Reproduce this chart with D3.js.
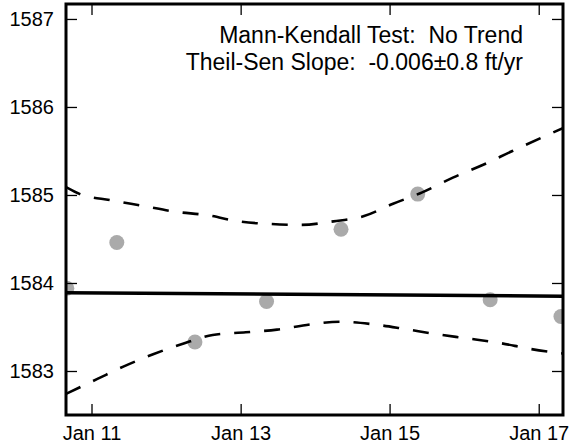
<!DOCTYPE html>
<html><head><meta charset="utf-8">
<script src="https://cdn.jsdelivr.net/npm/d3@7"></script>
<style>body{margin:0;background:#fff}svg{display:block}</style>
</head><body><svg id="c" width="574" height="448"></svg>
<script>
// ---- data ----
const obsDates  = ["2010-09-02","2011-05-05","2012-05-22","2013-05-08","2014-05-08","2015-05-19","2016-05-08","2017-04-20"];
const obsValues = [1583.94, 1584.46, 1583.33, 1583.79, 1584.61, 1585.01, 1583.81, 1583.62];

const trendDates  = ["2010-08-29","2017-04-30"];
const trendValues = [1583.89, 1583.85];

const upperDates  = ["2010-08-29","2010-11-06","2011-04-05","2011-09-12","2012-02-16","2012-07-22","2012-12-23","2013-05-30","2013-10-23","2014-04-01","2014-08-29","2015-01-18","2015-06-10","2015-11-10","2016-04-01","2016-08-25","2017-04-30"];
const upperValues = [1585.09, 1585.01, 1584.94, 1584.875, 1584.81, 1584.77, 1584.70, 1584.67, 1584.66, 1584.70, 1584.76, 1584.90, 1585.03, 1585.20, 1585.34, 1585.50, 1585.76];

const lowerDates  = ["2010-08-29","2011-01-30","2011-06-06","2011-10-30","2012-03-24","2012-08-17","2013-01-26","2013-06-28","2013-12-09","2014-05-04","2014-10-15","2015-03-10","2015-08-14","2016-01-18","2016-06-20","2016-11-23","2017-04-30"];
const lowerValues = [1582.74, 1582.91, 1583.05, 1583.19, 1583.31, 1583.41, 1583.44, 1583.47, 1583.53, 1583.56, 1583.53, 1583.48, 1583.42, 1583.37, 1583.32, 1583.25, 1583.20];

const xDomain = ["2010-08-29","2017-04-30"];
const yDomain = [1582.5, 1587.17];
const xTickDates = ["2011-01-01","2013-01-01","2015-01-01","2017-01-01"];
const yTickValues = [1583, 1584, 1585, 1586, 1587];
const annotationLines = ["Mann-Kendall Test:  No Trend", "Theil-Sen Slope:  -0.006\u00B10.8 ft/yr"];

// ---- chart ----
const parse = d3.utcParse("%Y-%m-%d");
const m = {left: 66, top: 4, right: 11, bottom: 33};
const W = 574, H = 448;
const iw = W - m.left - m.right, ih = H - m.top - m.bottom;
const font = "'Liberation Sans', Arial, sans-serif";

const svg = d3.select("#c");
const g = svg.append("g").attr("transform", `translate(${m.left},${m.top})`);

const x = d3.scaleUtc().domain(xDomain.map(parse)).range([0, iw]);
const y = d3.scaleLinear().domain(yDomain).range([ih, 0]);

svg.append("defs").append("clipPath").attr("id", "clip")
  .append("rect").attr("width", iw).attr("height", ih);

const plot = g.append("g").attr("clip-path", "url(#clip)");

const obs = obsDates.map((d, i) => ({d: parse(d), v: obsValues[i]}));
plot.selectAll("circle").data(obs).join("circle")
  .attr("cx", p => x(p.d)).attr("cy", p => y(p.v)).attr("r", 7.5)
  .attr("fill", "#aaaaaa");

const line = d3.line().x(p => x(p.d)).y(p => y(p.v)).curve(d3.curveMonotoneX);
const mk = (ds, vs) => ds.map((d, i) => ({d: parse(d), v: vs[i]}));

plot.append("path").datum(mk(upperDates, upperValues)).attr("d", line)
  .attr("fill", "none").attr("stroke", "#000").attr("stroke-width", 2.6).attr("stroke-dasharray", "16,14");
plot.append("path").datum(mk(lowerDates, lowerValues)).attr("d", line)
  .attr("fill", "none").attr("stroke", "#000").attr("stroke-width", 2.6).attr("stroke-dasharray", "16,14");
plot.append("path").datum(mk(trendDates, trendValues)).attr("d", d3.line().x(p => x(p.d)).y(p => y(p.v)))
  .attr("fill", "none").attr("stroke", "#000").attr("stroke-width", 3.5);

const xt = xTickDates.map(parse);
const fmt = d3.utcFormat("%b %y");

function styleAxis(sel, showText) {
  sel.select(".domain").remove();
  sel.selectAll(".tick line").attr("stroke", "#000").attr("stroke-width", 1.3);
  sel.selectAll(".tick text").attr("fill", "#000").style("font-family", font).style("font-size", "20px");
  if (!showText) sel.selectAll(".tick text").remove();
}

g.append("g").attr("transform", `translate(0,${ih})`)
  .call(d3.axisBottom(x).tickValues(xt).tickFormat(fmt).tickSize(-11).tickPadding(11))
  .call(s => styleAxis(s, true));
g.append("g")
  .call(d3.axisTop(x).tickValues(xt).tickSize(-11))
  .call(s => styleAxis(s, false));
g.append("g")
  .call(d3.axisLeft(y).tickValues(yTickValues).tickFormat(d3.format("d")).tickSize(-11).tickPadding(12))
  .call(s => styleAxis(s, true));
g.append("g").attr("transform", `translate(${iw},0)`)
  .call(d3.axisRight(y).tickValues(yTickValues).tickSize(-11))
  .call(s => styleAxis(s, false));

g.append("rect").attr("width", iw).attr("height", ih)
  .attr("fill", "none").attr("stroke", "#000").attr("stroke-width", 3);

const ann = g.append("text").attr("text-anchor", "end")
  .style("font-family", font).style("font-size", "23px").style("white-space", "pre").attr("xml:space", "preserve");
annotationLines.forEach((t, i) => {
  ann.append("tspan").attr("x", 457).attr("y", 39 + i * 27).text(t);
});
</script>
</body></html>
